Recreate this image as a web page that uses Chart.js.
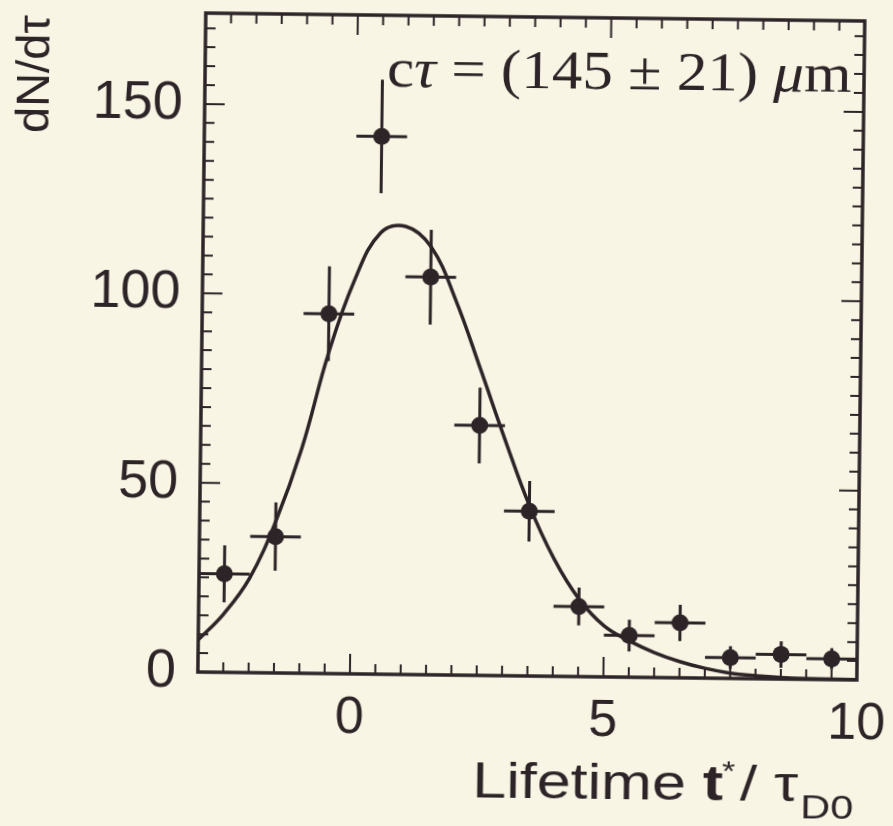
<!DOCTYPE html>
<html lang="en">
<head>
<meta charset="UTF-8">
<title>D0 lifetime distribution</title>
<script src="https://cdn.jsdelivr.net/npm/chart.js@4.4.0/dist/chart.umd.min.js"></script>
<style>
    html, body { margin: 0; padding: 0; background: #f9f5e4; overflow: hidden; }
    #wrap { width: 893px; height: 826px; transform: rotate(0.69deg); }
</style>
</head>
<body>
<div id="wrap"><canvas id="myChart" width="893" height="826"></canvas></div>
<script>

// measured bins (t / tau_D0) with counts and errors
const binCenters = [-2.5, -1.5, -0.5, 0.5, 1.5, 2.5, 3.5, 4.5, 5.5, 6.5, 7.5, 8.5, 9.5];
const counts = [26, 36, 95, 142, 105, 66, 43.5, 18.5, 11, 14.5, 5.5, 6.5, 5.5];
const errors = [7.5, 9, 12.5, 15, 12.5, 10, 8, 5, 4.2, 4.8, 3, 3.5, 2.8];
const binHalfWidth = 0.5;

// fitted lifetime curve
const curveX = [-3, -2.5, -2, -1.5, -1, -0.5, 0, 0.5, 1, 1.5, 2, 2.5, 3, 3.5, 4, 4.5, 5, 5.5, 6, 6.5, 7, 7.5, 8, 8.5, 9, 10];
const curveY = [8.5, 15.5, 25, 40, 59.5, 84.5, 104, 116.5, 118.3, 113, 99, 81, 62.5, 45, 31, 20.5, 13.5, 9.6, 6.6, 4.3, 2.6, 1.4, 0.8, 0.4, 0.2, 0.05];

const xTicks = [0, 5, 10];
const yTicks = [0, 50, 100, 150];

const ink = '#2d2428';
const sans = 'Liberation Sans';
const serif = 'Liberation Serif';

// frame on all four sides with ticks pointing inwards
const frame = {
    id: 'frame',
    afterDraw(chart) {
        const { ctx, chartArea: a, scales: { x, y } } = chart;
        ctx.save();
        ctx.strokeStyle = ink;
        ctx.lineWidth = 2;
        for (let i = -6; i <= 20; i++) {
            const v = i / 2;
            const px = x.getPixelForValue(v);
            const len = v % 5 === 0 ? 20 : 10;
            ctx.beginPath();
            ctx.moveTo(px, a.bottom); ctx.lineTo(px, a.bottom - len);
            ctx.moveTo(px, a.top); ctx.lineTo(px, a.top + len);
            ctx.stroke();
        }
        for (let v = 0; v <= 170; v += 5) {
            const py = y.getPixelForValue(v);
            const len = v % 50 === 0 ? 20 : 10;
            ctx.beginPath();
            ctx.moveTo(a.left, py); ctx.lineTo(a.left + len, py);
            ctx.moveTo(a.right, py); ctx.lineTo(a.right - len, py);
            ctx.stroke();
        }
        ctx.lineWidth = 3.5;
        ctx.strokeRect(a.left, a.top, a.right - a.left, a.bottom - a.top);
        ctx.restore();
    }
};

// crosses: vertical = count error, horizontal = bin width
const errorBars = {
    id: 'errorBars',
    beforeDatasetsDraw(chart) {
        const { ctx, scales: { x, y } } = chart;
        ctx.save();
        ctx.strokeStyle = ink;
        ctx.lineWidth = 3;
        binCenters.forEach((c, i) => {
            const px = x.getPixelForValue(c);
            const py = y.getPixelForValue(counts[i]);
            ctx.beginPath();
            ctx.moveTo(x.getPixelForValue(c - binHalfWidth), py);
            ctx.lineTo(x.getPixelForValue(c + binHalfWidth), py);
            ctx.moveTo(px, y.getPixelForValue(counts[i] - errors[i]));
            ctx.lineTo(px, y.getPixelForValue(counts[i] + errors[i]));
            ctx.stroke();
        });
        ctx.restore();
    }
};

// draw a run of differently styled pieces, stretched sideways by sx
function drawRun(ctx, parts, x, y, sx) {
    ctx.save();
    ctx.translate(x, y);
    ctx.scale(sx, 1);
    let cx = 0;
    parts.forEach(p => {
        ctx.font = p.f;
        ctx.fillText(p.t, cx + (p.dx || 0), p.dy || 0);
        cx += ctx.measureText(p.t).width + (p.dx || 0);
    });
    ctx.restore();
    return cx * sx;
}

function runWidth(ctx, parts, sx) {
    let w = 0;
    parts.forEach(p => { ctx.font = p.f; w += ctx.measureText(p.t).width + (p.dx || 0); });
    return w * sx;
}

// axis titles and the fit result
const labels = {
    id: 'labels',
    afterDraw(chart) {
        const { ctx, chartArea: a } = chart;
        ctx.save();
        ctx.fillStyle = ink;
        ctx.textBaseline = 'alphabetic';
        ctx.textAlign = 'left';

        // y title, rotated, sits at the top of the axis
        ctx.save();
        ctx.translate(45, 138);
        ctx.rotate(-Math.PI / 2);
        ctx.font = `47px "${sans}"`;
        ctx.fillText('dN/dτ', 0, 0);
        ctx.restore();

        // x title, right aligned to the frame
        const xTitle = [
            { t: 'Lifetime ', f: `50px "${sans}"` },
            { t: 't', f: `bold 50px "${sans}"` },
            { t: '*', f: `28px "${sans}"`, dy: -20, dx: -1 },
            { t: '/ ', f: `50px "${sans}"`, dx: 4 },
            { t: 'τ', f: `50px "${sans}"` },
            { t: 'D0', f: `34px "${sans}"`, dy: 17, dx: 2 }
        ];
        const sx = 1.22;
        drawRun(ctx, xTitle, a.right - 2 - runWidth(ctx, xTitle, sx), 797, sx);

        // fit result
        const fit = [
            { t: 'c', f: `54px "${serif}"` },
            { t: 'τ', f: `italic 54px "${serif}"` },
            { t: ' = (145 ± 21) ', f: `54px "${serif}"` },
            { t: 'μ', f: `italic 54px "${serif}"` },
            { t: 'm', f: `54px "${serif}"` }
        ];
        drawRun(ctx, fit, 383, 87, 1.13);
        ctx.restore();
    }
};

const ctx = document.getElementById('myChart').getContext('2d');
const myChart = new Chart(ctx, {
    data: {
        datasets: [{
            type: 'line',
            data: curveX.map((x, i) => ({ x: x, y: curveY[i] })),
            borderColor: ink,
            borderWidth: 3.5,
            pointRadius: 0,
            tension: 0.4,
            fill: false
        }, {
            type: 'scatter',
            data: binCenters.map((x, i) => ({ x: x, y: counts[i] })),
            backgroundColor: ink,
            borderWidth: 0,
            pointRadius: 8.5
        }]
    },
    options: {
        responsive: false,
        animation: false,
        devicePixelRatio: 1,
        layout: { padding: { left: 0, right: 33, top: 16, bottom: 0 } },
        plugins: { legend: { display: false }, tooltip: { enabled: false } },
        scales: {
            x: {
                type: 'linear',
                min: -3,
                max: 10,
                afterBuildTicks: s => { s.ticks = xTicks.map(v => ({ value: v })); },
                afterFit: s => { s.height = 151; s.paddingLeft = 0; s.paddingRight = 0; },
                grid: { display: false, drawTicks: false },
                border: { display: false },
                ticks: { color: ink, font: { family: sans, size: 52 }, padding: 13, maxRotation: 0 }
            },
            y: {
                type: 'linear',
                min: 0,
                max: 174,
                afterBuildTicks: s => { s.ticks = yTicks.map(v => ({ value: v })); },
                afterFit: s => { s.width = 201; s.paddingTop = 0; s.paddingBottom = 0; },
                grid: { display: false, drawTicks: false },
                border: { display: false },
                ticks: { color: ink, font: { family: sans, size: 54 }, padding: 22 }
            }
        }
    },
    plugins: [errorBars, frame, labels]
});

</script>
</body>
</html>
